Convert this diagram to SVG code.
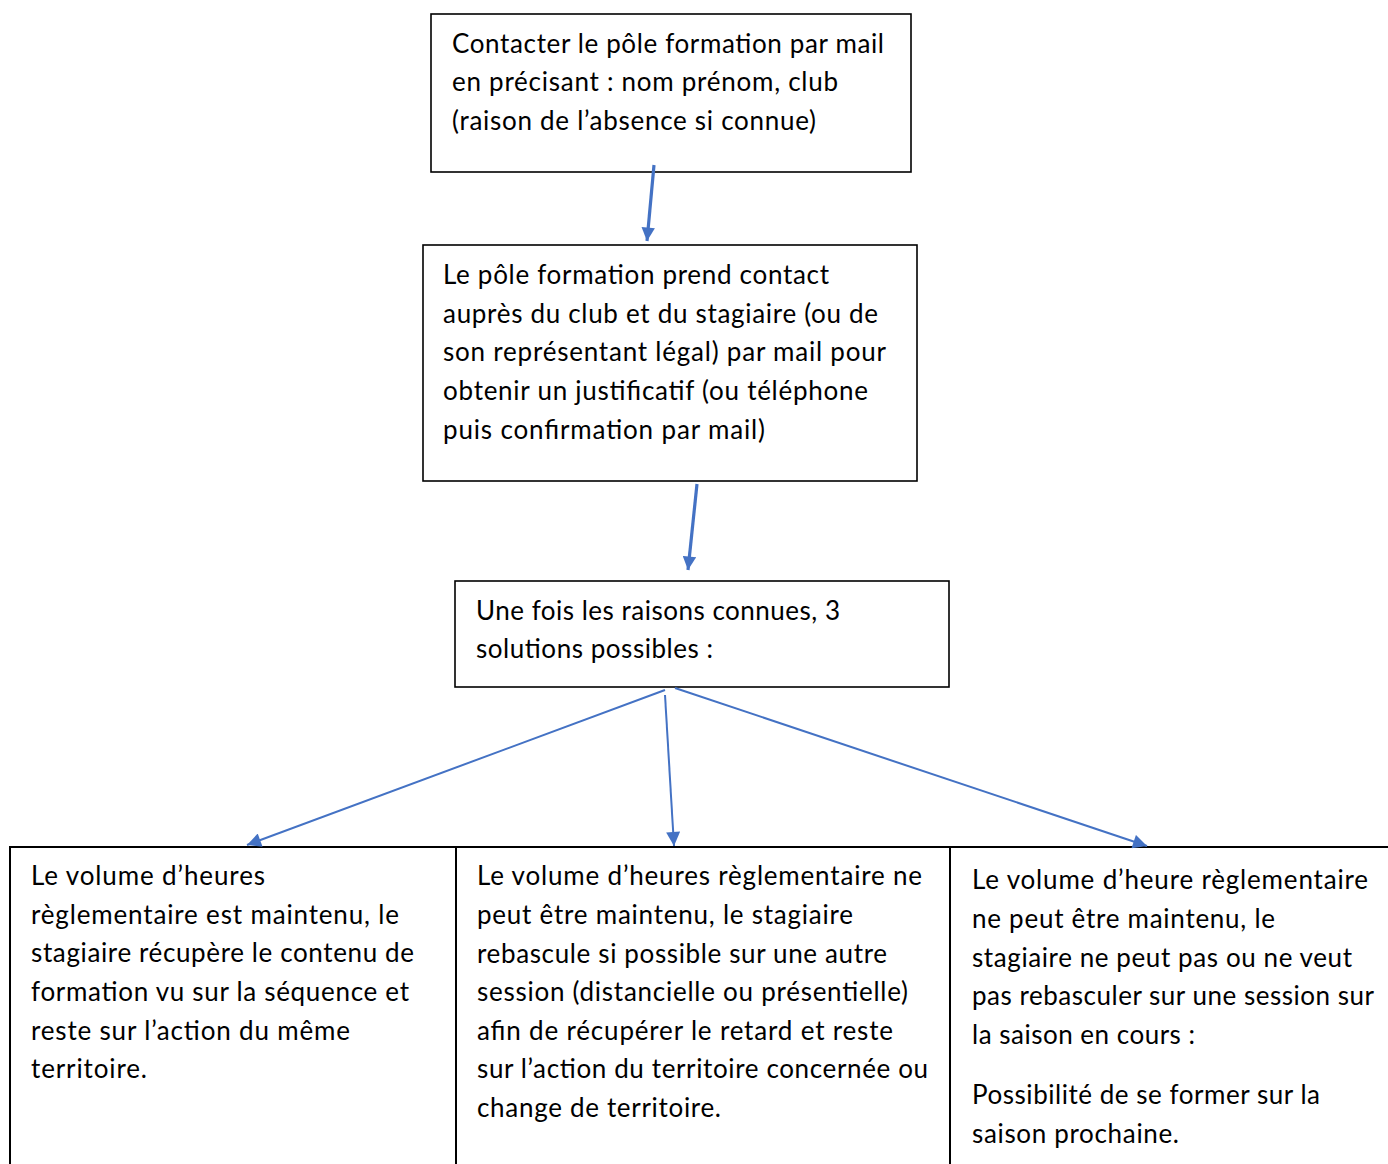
<svg xmlns="http://www.w3.org/2000/svg" width="1388" height="1164" viewBox="0 0 1388 1164">
<defs>
<style>
.box{fill:#fff;stroke:#000;stroke-width:1.6}
.t{font-family:Lato,"Open Sans","Liberation Sans",sans-serif;font-size:26px;fill:#000}
.c{stroke:#4472c4;fill:none}
.thick{stroke-width:3.2}
.thin{stroke-width:2}
</style>
<marker id="ah" viewBox="0 0 10 10" refX="10" refY="5" markerWidth="4.5" markerHeight="4.2" orient="auto" markerUnits="strokeWidth"><path d="M0,0L10,5L0,10z" fill="#4472c4"/></marker>
<marker id="ah2" viewBox="0 0 10 10" refX="10" refY="5" markerWidth="8" markerHeight="7" orient="auto" markerUnits="strokeWidth"><path d="M0,0L10,5L0,10z" fill="#4472c4"/></marker>
</defs>
<rect width="1388" height="1164" fill="#fff"/>
<g id="n1">
<rect class="box" x="431" y="14" width="480" height="158"/>
<text class="t" x="452" y="53" textLength="432">Contacter le pôle formation par mail</text>
<text class="t" x="452" y="91" textLength="386">en précisant : nom prénom, club</text>
<text class="t" x="452" y="130" textLength="364">(raison de l’absence si connue)</text>
</g>
<g id="n2">
<rect class="box" x="423" y="245" width="494" height="236"/>
<text class="t" x="443" y="284" textLength="386">Le pôle formation prend contact</text>
<text class="t" x="443" y="323" textLength="435">auprès du club et du stagiaire (ou de</text>
<text class="t" x="443" y="361" textLength="443">son représentant légal) par mail pour</text>
<text class="t" x="443" y="400" textLength="425">obtenir un justificatif (ou téléphone</text>
<text class="t" x="443" y="439" textLength="322">puis confirmation par mail)</text>
</g>
<g id="n3">
<rect class="box" x="455" y="581" width="494" height="106"/>
<text class="t" x="476" y="620" textLength="364">Une fois les raisons connues, 3</text>
<text class="t" x="476" y="658" textLength="237">solutions possibles :</text>
</g>
<g id="n4">
<path d="M10,1164V847H456V1164" fill="none" stroke="#000" stroke-width="2"/>
<text class="t" x="31" y="885" textLength="234">Le volume d’heures</text>
<text class="t" x="31" y="924" textLength="368">règlementaire est maintenu, le</text>
<text class="t" x="31" y="962" textLength="383">stagiaire récupère le contenu de</text>
<text class="t" x="31" y="1001" textLength="378">formation vu sur la séquence et</text>
<text class="t" x="31" y="1040" textLength="319">reste sur l’action du même</text>
<text class="t" x="31" y="1078" textLength="116">territoire.</text>
</g>
<g id="n5">
<path d="M456,847H950V1164" fill="none" stroke="#000" stroke-width="2"/>
<text class="t" x="477" y="885" textLength="445">Le volume d’heures règlementaire ne</text>
<text class="t" x="477" y="924" textLength="376">peut être maintenu, le stagiaire</text>
<text class="t" x="477" y="963" textLength="410">rebascule si possible sur une autre</text>
<text class="t" x="477" y="1001" textLength="431">session (distancielle ou présentielle)</text>
<text class="t" x="477" y="1040" textLength="416">afin de récupérer le retard et reste</text>
<text class="t" x="477" y="1078" textLength="451">sur l’action du territoire concernée ou</text>
<text class="t" x="477" y="1117" textLength="244">change de territoire.</text>
</g>
<g id="n6">
<path d="M950,847H1388" fill="none" stroke="#000" stroke-width="2"/>
<text class="t" x="972" y="889" textLength="396">Le volume d’heure règlementaire</text>
<text class="t" x="972" y="928" textLength="303">ne peut être maintenu, le</text>
<text class="t" x="972" y="967" textLength="380">stagiaire ne peut pas ou ne veut</text>
<text class="t" x="972" y="1005" textLength="402">pas rebasculer sur une session sur</text>
<text class="t" x="972" y="1044" textLength="223">la saison en cours :</text>
<text class="t" x="972" y="1104" textLength="348">Possibilité de se former sur la</text>
<text class="t" x="972" y="1143" textLength="207">saison prochaine.</text>
</g>
<g id="connectors">
<line class="c thick" x1="654" y1="165" x2="647" y2="241" marker-end="url(#ah)"/>
<line class="c thick" x1="697" y1="484" x2="688" y2="570" marker-end="url(#ah)"/>
<line class="c thin" x1="665" y1="690" x2="247" y2="845" marker-end="url(#ah2)"/>
<line class="c thin" x1="665" y1="695" x2="674" y2="846" marker-end="url(#ah2)"/>
<line class="c thin" x1="675" y1="688" x2="1147" y2="846" marker-end="url(#ah2)"/>
</g>
</svg>
